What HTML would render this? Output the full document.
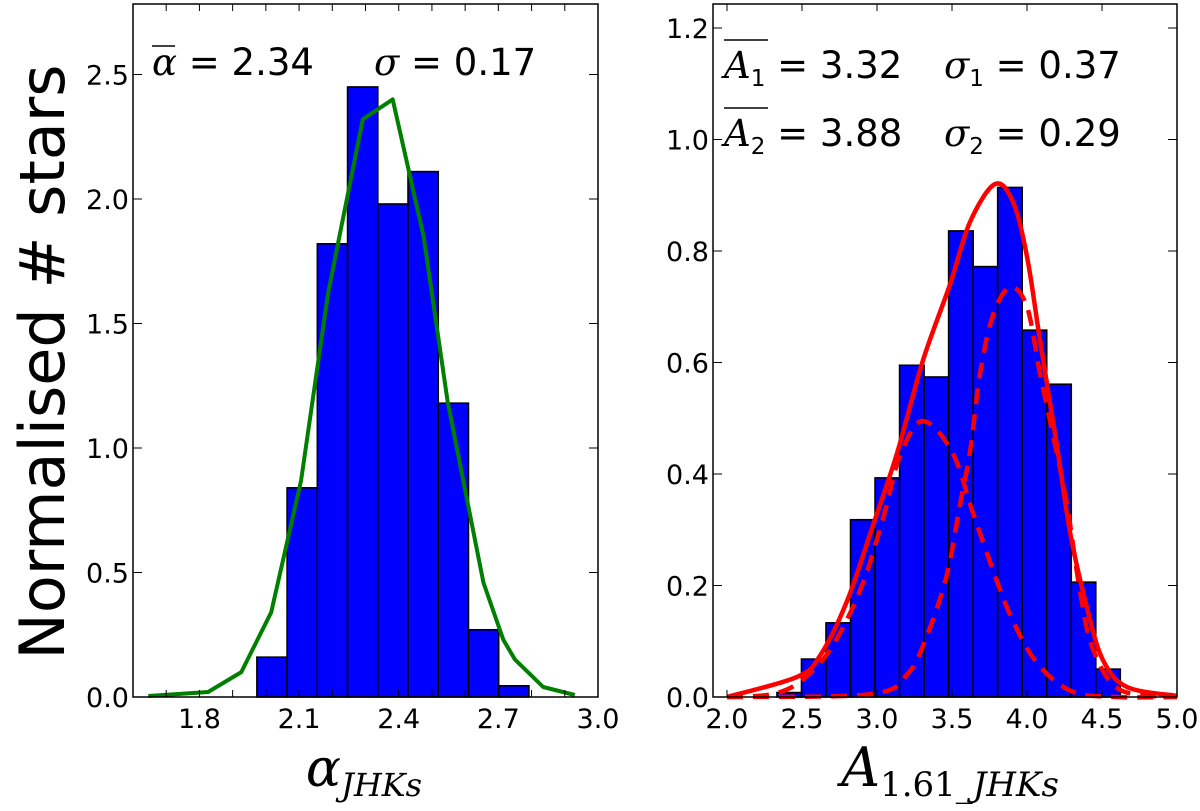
<!DOCTYPE html>
<html><head><meta charset="utf-8"><style>
html,body{margin:0;padding:0;background:#fff;}
svg{display:block;font-family:"DejaVu Sans","Liberation Sans",sans-serif;}
</style></head><body>
<svg id="fig" width="1200" height="811" viewBox="0 0 1200 811" xmlns="http://www.w3.org/2000/svg">
<text x="0" y="0" transform="translate(64,362) rotate(-90)" text-anchor="middle" font-size="62" fill="#000">Normalised # stars</text>
<text x="364" y="786" text-anchor="middle" font-family="DejaVu Serif, Liberation Serif, serif" font-style="italic" font-size="52">α<tspan font-size="32" dy="10">JHKs</tspan></text>
<text x="950" y="786" text-anchor="middle" font-family="DejaVu Serif, Liberation Serif, serif" font-style="italic" font-size="54">A<tspan font-size="34" dy="10" font-style="normal">1.61_</tspan><tspan font-size="34">JHKs</tspan></text>
<g font-size="37">
<text x="152" y="75"><tspan font-family="DejaVu Serif, serif" font-style="italic">α</tspan> = 2.34</text>
<line x1="152" y1="46" x2="175" y2="46" stroke="#000" stroke-width="1.5"/>
<text x="374" y="75"><tspan font-family="DejaVu Serif, serif" font-style="italic">σ</tspan> =  0.17</text>
</g>
<g font-size="37">
<text x="724" y="78"><tspan font-family="DejaVu Serif, serif" font-style="italic">A</tspan><tspan font-size="23" dy="8">1</tspan><tspan dy="-8"> = 3.32</tspan></text>
<line x1="724" y1="40" x2="768" y2="40" stroke="#000" stroke-width="1.5"/>
<text x="944" y="78"><tspan font-family="DejaVu Serif, serif" font-style="italic">σ</tspan><tspan font-size="23" dy="8">1</tspan><tspan dy="-8"> =  0.37</tspan></text>
<text x="724" y="146"><tspan font-family="DejaVu Serif, serif" font-style="italic">A</tspan><tspan font-size="23" dy="8">2</tspan><tspan dy="-8"> = 3.88</tspan></text>
<line x1="724" y1="108" x2="768" y2="108" stroke="#000" stroke-width="1.5"/>
<text x="944" y="146"><tspan font-family="DejaVu Serif, serif" font-style="italic">σ</tspan><tspan font-size="23" dy="8">2</tspan><tspan dy="-8"> =  0.29</tspan></text>
</g>
</svg>
<script>
// ---- Left panel data ----
const leftBinStart = 1.973;
const leftBinWidth = 0.091;
const leftCounts = [0.16, 0.84, 1.82, 2.45, 1.98, 2.11, 1.18, 0.27, 0.045];
const leftFitX = [1.646, 1.826, 1.926, 2.016, 2.106, 2.187, 2.292, 2.382, 2.475, 2.547, 2.655, 2.715, 2.75, 2.835, 2.93];
const leftFitY = [0.004, 0.02, 0.10, 0.34, 0.87, 1.62, 2.32, 2.40, 1.85, 1.19, 0.46, 0.23, 0.15, 0.04, 0.008];
const leftXTicks = [1.8, 2.1, 2.4, 2.7, 3.0];
const leftYTicks = [0.0, 0.5, 1.0, 1.5, 2.0, 2.5];
// ---- Right panel data ----
const rightBinStart = 2.333;
const rightBinWidth = 0.1635;
const rightCounts = [0.008, 0.068, 0.133, 0.318, 0.393, 0.595, 0.574, 0.836, 0.772, 0.914, 0.658, 0.561, 0.206, 0.05];
const totalX = [2.0, 2.467, 2.62, 2.8, 2.973, 3.133, 3.307, 3.487, 3.62, 3.787, 3.907, 4.0, 4.087, 4.2, 4.287, 4.4, 4.507, 4.667, 5.0];
const totalY = [0.0, 0.036, 0.074, 0.172, 0.308, 0.437, 0.604, 0.74, 0.852, 0.92, 0.888, 0.79, 0.64, 0.45, 0.296, 0.16, 0.066, 0.018, 0.002];
const comp1X = [2.0, 2.3, 2.5, 2.7, 2.9, 3.05, 3.15, 3.3, 3.5, 3.64, 3.77, 3.9, 4.07, 4.3, 4.6, 5.0];
const comp1Y = [0.0, 0.005, 0.03, 0.09, 0.2, 0.33, 0.43, 0.495, 0.44, 0.33, 0.23, 0.14, 0.06, 0.01, 0.0, 0.0];
const comp2X = [2.0, 2.953, 3.2, 3.333, 3.467, 3.553, 3.62, 3.687, 3.773, 3.887, 4.0, 4.087, 4.173, 4.267, 4.353, 4.44, 4.62, 5.0];
const comp2Y = [0.0, 0.005, 0.04, 0.11, 0.22, 0.345, 0.44, 0.58, 0.685, 0.735, 0.70, 0.58, 0.47, 0.345, 0.19, 0.086, 0.013, 0.0];
const rightXTicks = [2.0, 2.5, 3.0, 3.5, 4.0, 4.5, 5.0];
const rightYTicks = [0.0, 0.2, 0.4, 0.6, 0.8, 1.0, 1.2];

const NS = "http://www.w3.org/2000/svg";
const svg = document.getElementById('fig');
function mk(tag, attrs, parent) {
  const e = document.createElementNS(NS, tag);
  for (const k in attrs) e.setAttribute(k, attrs[k]);
  (parent || svg).appendChild(e);
  return e;
}
function lin(d0, d1, r0, r1) { return v => r0 + (v - d0) * (r1 - r0) / (d1 - d0); }
function smoothPath(P) {
  let d = 'M' + P[0][0].toFixed(1) + ',' + P[0][1].toFixed(1);
  for (let i = 0; i < P.length - 1; i++) {
    const p0 = P[Math.max(0, i - 1)], p1 = P[i], p2 = P[i + 1], p3 = P[Math.min(P.length - 1, i + 2)];
    const c1 = [p1[0] + (p2[0] - p0[0]) / 6, p1[1] + (p2[1] - p0[1]) / 6];
    const c2 = [p2[0] - (p3[0] - p1[0]) / 6, p2[1] - (p3[1] - p1[1]) / 6];
    d += ' C' + c1.map(v => v.toFixed(1)).join(',') + ' ' + c2.map(v => v.toFixed(1)).join(',') + ' ' + p2.map(v => v.toFixed(1)).join(',');
  }
  return d;
}

function panel(cfg) {
  const g = mk('g', {});
  
  
  const x = lin(cfg.xd[0], cfg.xd[1], cfg.L, cfg.R);
  const y = lin(0, 1, cfg.B, cfg.B - cfg.ky);
  const bars = mk('g', {}, g);
  
  
  cfg.counts.forEach((c, i) => {
    const x0 = x(cfg.binStart + i * cfg.binWidth), x1 = x(cfg.binStart + (i + 1) * cfg.binWidth);
    const r = mk('rect', {x: x0, y: y(c), width: x1 - x0, height: y(0) - y(c), fill: '#0000ff', stroke: '#000', 'stroke-width': 1.6}, bars);
    
    
  });
  cfg.lines.forEach(ln => {
    const P = ln.xs.map((v, i) => [x(v), y(ln.ys[i])]);
    let p;
    if (ln.smooth) {
      p = mk('path', {d: smoothPath(P), fill: 'none', stroke: ln.color, 'stroke-width': ln.w, 'stroke-dasharray': ln.dash || 'none', 'stroke-linejoin': 'round'}, g);
    } else {
      p = mk('polyline', {points: P.map(q => q[0].toFixed(1) + ',' + q[1].toFixed(1)).join(' '), fill: 'none', stroke: ln.color, 'stroke-width': ln.w, 'stroke-linejoin': 'round'}, g);
    }
    
    
  });
  const box = mk('rect', {x: cfg.L, y: cfg.T, width: cfg.R - cfg.L, height: cfg.B - cfg.T, fill: 'none', stroke: '#000', 'stroke-width': 1.5}, g);
  
  
  cfg.minorX.forEach(v => {
    const px = x(v);
    mk('line', {x1: px, x2: px, y1: cfg.B, y2: cfg.B - 7, stroke: '#000', 'stroke-width': 1}, g);
    mk('line', {x1: px, x2: px, y1: cfg.T, y2: cfg.T + 7, stroke: '#000', 'stroke-width': 1}, g);
  });
  cfg.xticks.forEach(v => {
    const t = mk('text', {x: x(v), y: cfg.B + 31, 'text-anchor': 'middle', 'font-size': 27}, g);
    t.textContent = v.toFixed(1);
    
    
  });
  cfg.yticks.forEach(v => {
    const py = y(v);
    mk('line', {x1: cfg.L, x2: cfg.L + 9, y1: py, y2: py, stroke: '#000', 'stroke-width': 1}, g);
    mk('line', {x1: cfg.R, x2: cfg.R - 9, y1: py, y2: py, stroke: '#000', 'stroke-width': 1}, g);
    const t = mk('text', {x: cfg.L - 4, y: py + 10, 'text-anchor': 'end', 'font-size': 27}, g);
    t.textContent = v.toFixed(1);
    
    
  });
}

const leftMinor = [];
for (let v = 1.7; v < 3.0; v += 0.1) leftMinor.push(+v.toFixed(2));
panel({name: 'alpha-panel', L: 133, R: 598, T: 4, B: 697, xd: [1.6, 3.0], ky: 249,
  binStart: leftBinStart, binWidth: leftBinWidth, counts: leftCounts,
  xticks: leftXTicks, yticks: leftYTicks, minorX: leftMinor,
  lines: [{xs: leftFitX, ys: leftFitY, color: '#007f00', w: 4, name: 'gaussian-fit-line'}]});

const rightMinor = [];
for (let v = 2.0; v <= 5.0; v += 0.5) rightMinor.push(+v.toFixed(2));
const xd0 = 2.0 - 14 / 150, xd1 = 5.0;
panel({name: 'extinction-panel', L: 713, R: 1177, T: 4, B: 697, xd: [xd0, xd1], ky: 557.5,
  binStart: rightBinStart, binWidth: rightBinWidth, counts: rightCounts,
  xticks: rightXTicks, yticks: rightYTicks, minorX: rightMinor,
  lines: [
    {xs: comp1X, ys: comp1Y, color: '#ff0000', w: 4.5, dash: '16,10', smooth: true, name: 'component-1-dashed'},
    {xs: comp2X, ys: comp2Y, color: '#ff0000', w: 4.5, dash: '16,10', smooth: true, name: 'component-2-dashed'},
    {xs: totalX, ys: totalY, color: '#ff0000', w: 4.5, smooth: true, name: 'total-fit-line'}
  ]});
</script>
</body></html>
